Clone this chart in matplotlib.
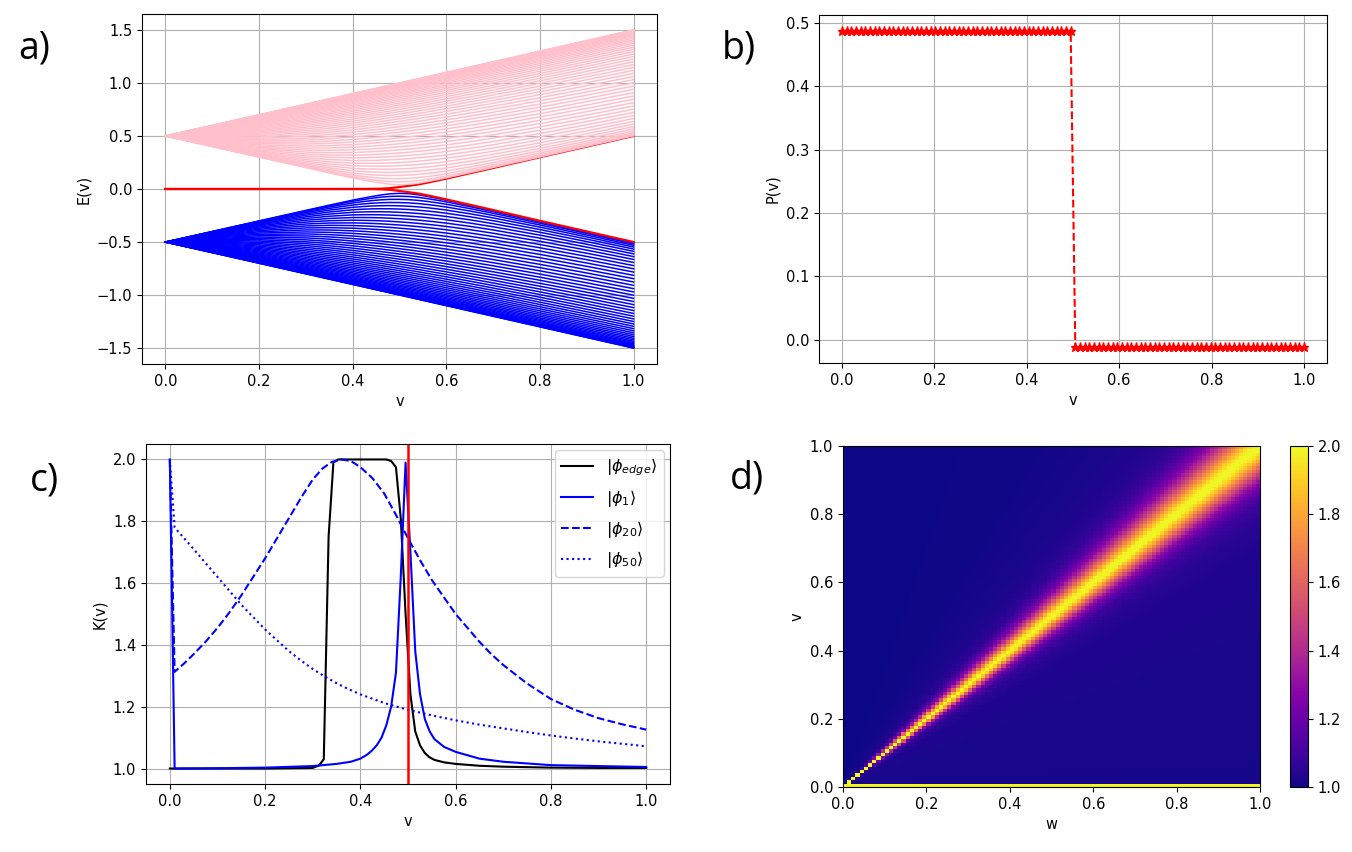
import numpy as np
import matplotlib
matplotlib.use("Agg")
import matplotlib.pyplot as plt

# ---------------- data ----------------
# panel a: band envelopes (upper band; lower band is mirrored)
a_v = [0.0, 0.1, 0.2, 0.3, 0.35, 0.4, 0.42, 0.44, 0.46, 0.48, 0.5, 0.52, 0.54, 0.56, 0.58,
       0.6, 0.65, 0.7, 0.8, 0.9, 1.0]
a_band_top = [0.5, 0.6, 0.7, 0.8, 0.85, 0.9, 0.92, 0.94, 0.96, 0.98, 1.0, 1.02, 1.04, 1.06, 1.08,
              1.1, 1.15, 1.2, 1.3, 1.4, 1.5]
a_band_bottom = [0.5, 0.4, 0.3, 0.2, 0.15, 0.101, 0.083, 0.065, 0.048, 0.033, 0.026, 0.03, 0.044,
                 0.062, 0.081, 0.1, 0.15, 0.2, 0.3, 0.4, 0.5]
a_edge_v = [0.0, 0.40, 0.44, 0.46, 0.48, 0.49, 0.50, 0.52, 0.54, 0.56, 0.60, 0.70, 0.80, 0.90, 1.0]
a_edge_E = [0.0, 0.0, 0.001, 0.003, 0.008, 0.013, 0.019, 0.03, 0.043, 0.06, 0.098, 0.198, 0.3, 0.4, 0.5]
a_bulk_modes = 49

# panel b
b_v = np.linspace(0.0, 1.0, 100)
b_P = [0.488] * 50 + [-0.012] * 50

# panel c
c_edge_v = [0.0, 0.05, 0.1, 0.2, 0.3, 0.3131, 0.3232, 0.3333, 0.3434, 0.3535, 0.40, 0.4545,
            0.4646, 0.4747, 0.4848, 0.4949, 0.5051, 0.5152, 0.5253, 0.5354, 0.5455, 0.5556,
            0.5758, 0.60, 0.65, 0.70, 0.80, 0.90, 1.0]
c_edge_K = [1.0, 1.0, 1.0, 1.0, 1.002, 1.01, 1.03, 1.75, 1.99, 2.0, 2.0, 2.0,
            1.995, 1.975, 1.81, 1.50, 1.24, 1.12, 1.075, 1.05, 1.036, 1.028,
            1.02, 1.015, 1.009, 1.006, 1.003, 1.002, 1.002]
c_phi1_v = [0.0, 0.0101, 0.1, 0.2, 0.3, 0.35, 0.38, 0.40, 0.4141, 0.4242, 0.4343, 0.4444,
            0.4545, 0.4646, 0.4747, 0.4848, 0.4949, 0.5051, 0.5152, 0.5253, 0.5354, 0.5455,
            0.5556, 0.5758, 0.60, 0.65, 0.70, 0.80, 0.90, 1.0]
c_phi1_K = [2.0, 1.0, 1.001, 1.003, 1.008, 1.015, 1.022, 1.032, 1.045, 1.058, 1.075, 1.1,
            1.14, 1.2, 1.31, 1.62, 1.99, 1.70, 1.38, 1.24, 1.16, 1.12,
            1.095, 1.07, 1.054, 1.032, 1.022, 1.011, 1.008, 1.005]
c_phi20_v = [0.0, 0.0101, 0.03, 0.05, 0.075, 0.1, 0.125, 0.15, 0.175, 0.2, 0.225, 0.25, 0.275,
             0.3, 0.32, 0.34, 0.36, 0.38, 0.40, 0.425, 0.45, 0.475, 0.5, 0.525, 0.55, 0.575,
             0.6, 0.625, 0.65, 0.675, 0.7, 0.75, 0.8, 0.85, 0.9, 0.95, 1.0]
c_phi20_K = [2.0, 1.313, 1.34, 1.37, 1.41, 1.455, 1.505, 1.56, 1.62, 1.68, 1.745, 1.81, 1.875,
             1.935, 1.97, 1.992, 2.0, 1.995, 1.975, 1.94, 1.89, 1.82, 1.745, 1.675, 1.61, 1.555,
             1.50, 1.455, 1.41, 1.37, 1.335, 1.275, 1.225, 1.19, 1.163, 1.143, 1.126]
c_phi50_v = [0.0, 0.0101, 0.03, 0.05, 0.075, 0.1, 0.125, 0.15, 0.175, 0.2, 0.225, 0.25, 0.275,
             0.3, 0.325, 0.35, 0.375, 0.4, 0.45, 0.5, 0.55, 0.6, 0.65, 0.7, 0.75, 0.8, 0.85,
             0.9, 0.95, 1.0]
c_phi50_K = [2.0, 1.78, 1.745, 1.71, 1.665, 1.62, 1.575, 1.53, 1.49, 1.45, 1.415, 1.38, 1.35,
             1.322, 1.298, 1.276, 1.257, 1.24, 1.212, 1.19, 1.172, 1.156, 1.142, 1.13, 1.118,
             1.107, 1.097, 1.088, 1.08, 1.072]
c_legend = [r'$|\phi_{edge}\rangle$', r'$|\phi_1\rangle$', r'$|\phi_{20}\rangle$', r'$|\phi_{50}\rangle$']
c_transition = 0.5

# panel d: K profile across the diagonal as a function of v/w
d_ratio = [0.0, 0.5, 0.7, 0.78, 0.833, 0.867, 0.9, 0.933, 0.967, 0.985, 1.0, 1.015, 1.033,
           1.067, 1.1, 1.133, 1.167, 1.2, 1.25, 1.33, 1.5, 2.0, 5.0]
d_K = [1.015, 1.02, 1.03, 1.05, 1.09, 1.17, 1.32, 1.58, 1.87, 1.98, 2.0, 1.98, 1.88,
       1.65, 1.45, 1.3, 1.2, 1.13, 1.07, 1.04, 1.02, 1.008, 1.0]
d_bottom_row = 2.0
d_cells = 100

ticks01 = [0.0, 0.2, 0.4, 0.6, 0.8, 1.0]

# ---------------- figure ----------------
W, H = 1352, 852
fig = plt.figure(figsize=(W / 100, H / 100), dpi=100)
plt.rcParams['font.size'] = 10.5

def box(l, t, r, b):
    return [l / W, (H - b) / H, (r - l) / W, (b - t) / H]

# ---- a ----
ax = fig.add_axes(box(142, 14, 657, 364))
top = np.array(a_band_top)
bot = np.array(a_band_bottom)
frac = (1 + np.cos(np.pi * np.arange(1, a_bulk_modes + 1) / (a_bulk_modes + 1))) / 2
for t in frac:
    E = np.sqrt(bot ** 2 + t * (top ** 2 - bot ** 2))
    ax.plot(a_v, -E, color='blue', lw=1.1)
edge = np.array(a_edge_E)
ax.plot(a_edge_v, -edge, color='red', lw=1.6)
ax.plot(a_edge_v, edge, color='red', lw=1.6)
for t in frac[::-1]:
    E = np.sqrt(bot ** 2 + t * (top ** 2 - bot ** 2))
    ax.plot(a_v, E, color='pink', lw=1.1)
ax.set_xticks(ticks01)
ax.set_yticks([-1.5, -1.0, -0.5, 0.0, 0.5, 1.0, 1.5])
ax.set_xlabel('v')
ax.set_ylabel('E(v)')
ax.grid(True)
ax.set_axisbelow(True)

# ---- b ----
ax = fig.add_axes(box(819, 15, 1327, 363))
ax.plot(b_v, b_P, 'r*--', ms=6.5, lw=1.5)
ax.set_xticks(ticks01)
ax.set_xlabel('v')
ax.set_ylabel('P(v)')
ax.grid(True)

# ---- c ----
ax = fig.add_axes(box(146, 444, 670, 784))
ax.plot(c_edge_v, c_edge_K, color='black', ls='-', label=c_legend[0])
ax.plot(c_phi1_v, c_phi1_K, color='blue', ls='-', label=c_legend[1])
ax.plot(c_phi20_v, c_phi20_K, color='blue', ls='--', label=c_legend[2])
ax.plot(c_phi50_v, c_phi50_K, color='blue', ls=':', label=c_legend[3])
ax.axvline(c_transition, color='red', lw=1.8)
ax.set_xticks(ticks01)
ax.set_yticks([1.0, 1.2, 1.4, 1.6, 1.8, 2.0])
ax.set_xlabel('v')
ax.set_ylabel('K(v)')
ax.grid(True)
ax.legend(loc='upper right', fontsize=11.5, labelspacing=0.6, borderaxespad=0.4)

# ---- d ----
ax = fig.add_axes(box(843, 446, 1260, 787))
grid = np.linspace(0, 1, d_cells)
Wg, Vg = np.meshgrid(grid, grid)
safeW = np.where(Wg > 0, Wg, 1.0)
R = np.where(Wg > 0, Vg / safeW, np.inf)
Kmap = np.interp(R, d_ratio, d_K)
Kmap[0, :] = d_bottom_row
im = ax.imshow(Kmap, origin='lower', extent=[0, 1, 0, 1], aspect='auto',
               cmap='plasma', vmin=1.0, vmax=2.0, interpolation='nearest')
ax.set_xticks(ticks01)
ax.set_yticks(ticks01)
ax.set_xlabel('w')
ax.set_ylabel('v')
cax = fig.add_axes(box(1290, 446, 1308, 787))
cb = fig.colorbar(im, cax=cax)
cb.set_ticks([1.0, 1.2, 1.4, 1.6, 1.8, 2.0])

# ---- panel letters ----
for txt, x, y in [('a)', 18, 48), ('b)', 722, 48), ('c)', 30, 480), ('d)', 730, 478)]:
    fig.text(x / W, 1 - y / H, txt, fontsize=27, family='Open Sans', ha='left', va='center')

fig.savefig('out.png', dpi=100)
